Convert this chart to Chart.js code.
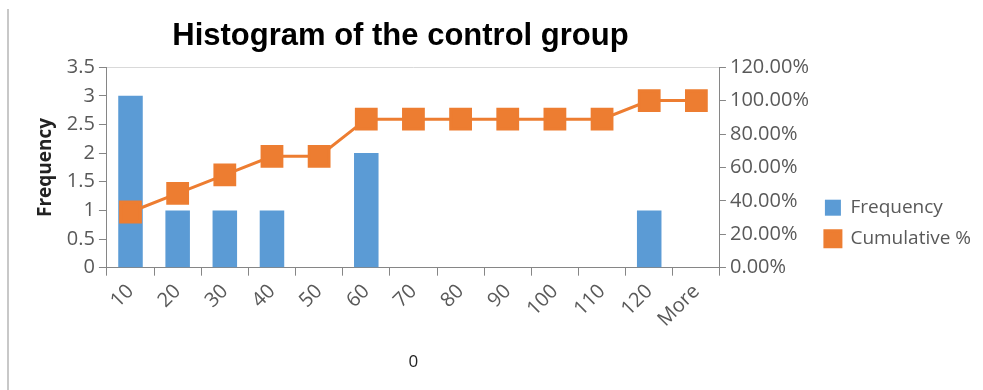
<!DOCTYPE html>
<html>
<head>
<meta charset="utf-8">
<script src="https://cdn.jsdelivr.net/npm/chart.js@4"></script>
<style>
  html, body { margin: 0; padding: 0; background: #fff; }
  #wrap { position: relative; width: 983px; height: 390px; }
  #frame { position: absolute; left: 7px; top: 9px; width: 2px; height: 381px; background: #c8c8c8; }
  canvas { position: absolute; left: 0; top: 0; }
</style>
</head>
<body>
<div id="wrap">
  <div id="frame"></div>
  <canvas id="histChart" width="983" height="390"></canvas>
</div>
<script>
// bins of the histogram
const bins = ['10', '20', '30', '40', '50', '60', '70', '80', '90', '100', '110', '120', 'More'];
// frequency per bin
const frequency = [3, 1, 1, 1, 0, 2, 0, 0, 0, 0, 0, 1, 0];
// cumulative percentage
const cumulative = [33.33, 44.44, 55.56, 66.67, 66.67, 88.89, 88.89, 88.89, 88.89, 88.89, 88.89, 100, 100];

const BLUE = '#5B9BD5';
const ORANGE = '#ED7D31';
const AXIS = '#868686';
const TXT = '#595959';
const tickFont = { family: '"Open Sans", "Noto Sans", sans-serif', size: 20 };

// nudge the title a bit left, like in the excel chart
const titleShift = {
    id: 'titleShift',
    afterLayout(chart) {
        const t = chart.titleBlock;
        if (t) { t.left -= 13; t.right -= 13; }
    }
};

const ctx = document.getElementById('histChart');
new Chart(ctx, {
    data: {
        labels: bins,
        datasets: [
            {
                type: 'bar',
                label: 'Frequency',
                data: frequency,
                backgroundColor: BLUE,
                categoryPercentage: 1,
                barPercentage: 0.52,
                yAxisID: 'y',
                order: 2,
                pointStyle: 'rect'
            },
            {
                type: 'line',
                label: 'Cumulative %',
                data: cumulative,
                borderColor: ORANGE,
                backgroundColor: ORANGE,
                borderWidth: 3,
                pointStyle: 'rect',
                pointRadius: 14,
                pointHoverRadius: 14,
                tension: 0,
                yAxisID: 'y1',
                order: 1
            }
        ]
    },
    plugins: [titleShift],
    options: {
        responsive: false,
        animation: false,
        events: [],
        layout: { padding: { left: 30, right: 2, top: 0, bottom: 14 } },
        plugins: {
            title: {
                display: true,
                fullSize: false,
                text: 'Histogram of the control group',
                color: '#000',
                font: { family: '"Liberation Sans", Arial, sans-serif', size: 31, weight: 'bold' },
                padding: { top: 18, bottom: 12 },
                align: 'center'
            },
            legend: {
                position: 'right',
                maxWidth: 220,
                title: { display: true, text: ' ', padding: 28 },
                labels: {
                    usePointStyle: true,
                    boxWidth: 16,
                    boxHeight: 16,
                    padding: 12,
                    color: TXT,
                    font: { family: '"Open Sans", "Noto Sans", sans-serif', size: 19 },
                    sort: (a, b) => a.datasetIndex - b.datasetIndex
                }
            },
            tooltip: { enabled: false }
        },
        scales: {
            x: {
                offset: true,
                grid: {
                    offset: true,
                    drawOnChartArea: false,
                    tickLength: 8,
                    tickColor: AXIS
                },
                border: { color: AXIS, width: 1 },
                ticks: {
                    color: TXT,
                    font: tickFont,
                    minRotation: 45,
                    maxRotation: 45,
                    padding: 4
                },
                title: {
                    display: true,
                    text: '0',
                    color: '#222',
                    font: { family: '"Open Sans", sans-serif', size: 17 },
                    padding: { top: 16 }
                }
            },
            y: {
                position: 'left',
                min: 0,
                max: 3.5,
                ticks: { stepSize: 0.5, color: TXT, font: tickFont, padding: 4, callback: v => String(v) },
                grid: {
                    color: c => c.tick && c.tick.value === 3.5 ? '#d9d9d9' : 'rgba(0,0,0,0)',
                    tickLength: 8,
                    tickColor: AXIS
                },
                border: { color: AXIS, width: 1 },
                title: {
                    display: true,
                    text: 'Frequency',
                    color: '#222',
                    font: { family: '"Open Sans", sans-serif', size: 19, weight: 'bold' },
                    padding: { bottom: 6 }
                }
            },
            y1: {
                position: 'right',
                min: 0,
                max: 120,
                ticks: {
                    stepSize: 20,
                    color: TXT,
                    font: tickFont,
                    padding: 4,
                    callback: v => v.toFixed(2) + '%'
                },
                grid: {
                    drawOnChartArea: false,
                    tickLength: 6,
                    tickColor: AXIS
                },
                border: { color: AXIS, width: 1 }
            }
        }
    }
});
</script>
</body>
</html>
